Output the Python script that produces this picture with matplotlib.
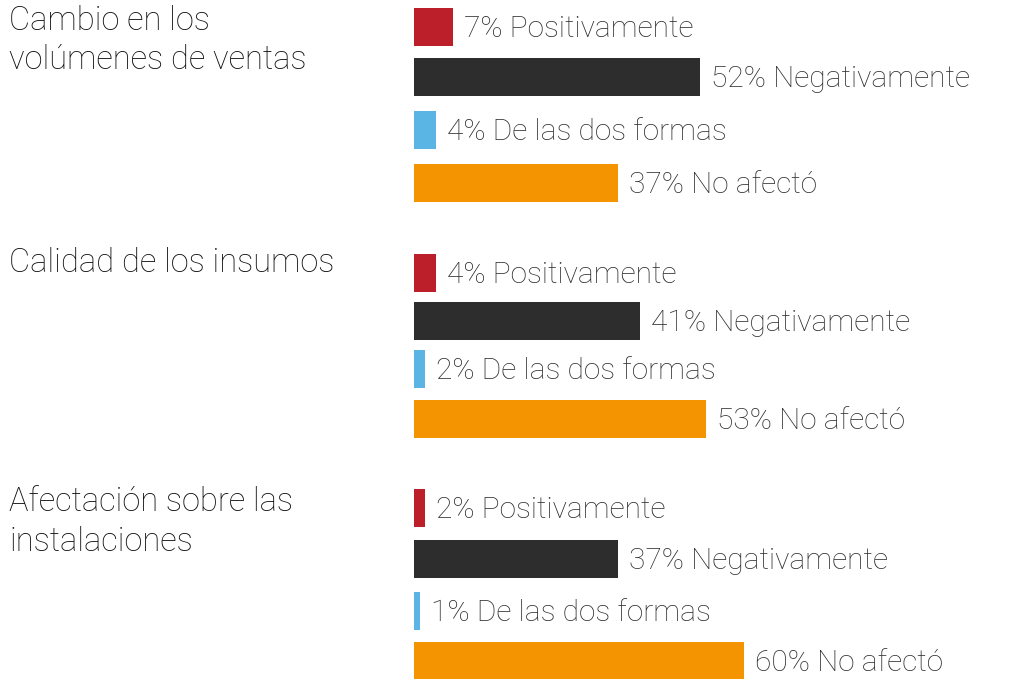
import matplotlib
matplotlib.use("Agg")
import matplotlib.pyplot as plt

groups = ["Cambio en los\nvolúmenes de ventas", "Calidad de los insumos", "Afectación sobre las\ninstalaciones"]
answers = ["Positivamente", "Negativamente", "De las dos formas", "No afectó"]
values = [
    [7, 52, 4, 37],
    [4, 41, 2, 53],
    [2, 37, 1, 60],
]
colors = ["#BC1F2A", "#2D2D2D", "#5AB4E4", "#F39400"]

# layout (pixel positions)
W, H = 1034, 679
bar_centers = [
    [27, 77, 130, 183],
    [273, 321, 369, 419],
    [508, 559, 611, 661],
]
title_baselines = [[30, 69], [272], [511, 551]]
x0 = 414
px_per_pct = 5.5

fam = ["Roboto", "DejaVu Sans"]

fig = plt.figure(figsize=(W / 100, H / 100), dpi=100)
ax = fig.add_axes([x0 / W, 0, 1 - x0 / W, 1])
ax.set_xlim(0, (W - x0) / px_per_pct)
ax.set_ylim(H, 0)
ax.axis("off")

for g, vals in enumerate(values):
    ys = bar_centers[g]
    ax.barh(ys, vals, height=38, color=colors, left=0)
    for y, v, a in zip(ys, vals, answers):
        ax.annotate(f"{v}% {a}", xy=(v, y), xytext=(8, -7.4), textcoords="offset points",
                    va="baseline", ha="left", fontsize=21.5, color="#2E2E2E",
                    family=fam, fontweight="light")
    for line, yb in zip(groups[g].split("\n"), title_baselines[g]):
        fig.text(9 / W, 1 - yb / H, line, ha="left", va="baseline",
                 fontsize=23.5, color="#111111", family=fam, fontweight="light")

fig.savefig("out.png", dpi=100)
